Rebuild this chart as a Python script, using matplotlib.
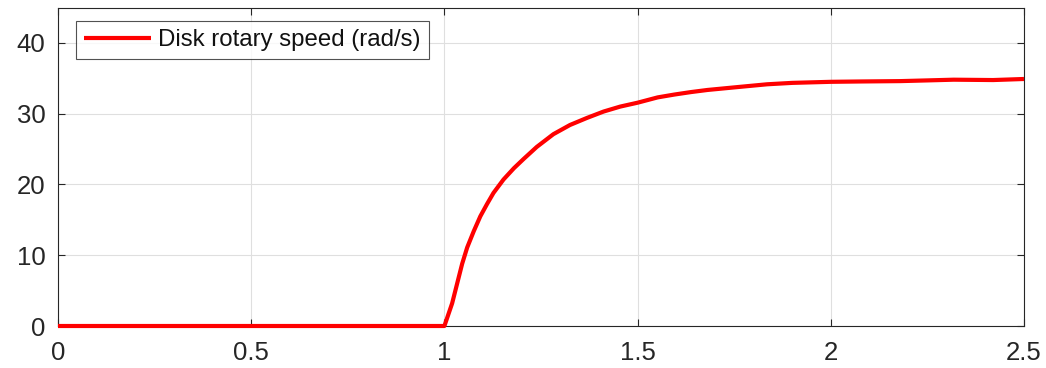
import numpy as np
import matplotlib
matplotlib.use("Agg")
import matplotlib.pyplot as plt

# Data
time_s = [0.0, 1.0, 1.02, 1.033, 1.046, 1.059, 1.076, 1.093, 1.11, 1.127, 1.153,
          1.18, 1.205, 1.239, 1.282, 1.325, 1.369, 1.412, 1.455, 1.5, 1.552,
          1.595, 1.638, 1.681, 1.767, 1.835, 1.9, 2.0, 2.08, 2.18, 2.25, 2.318,
          2.42, 2.5]
speed = [0.0, 0.0, 3.2, 6.0, 8.8, 11.1, 13.4, 15.5, 17.2, 18.8, 20.7,
         22.3, 23.6, 25.3, 27.1, 28.4, 29.4, 30.3, 31.0, 31.55, 32.3,
         32.7, 33.05, 33.35, 33.8, 34.15, 34.35, 34.5, 34.55, 34.6, 34.7, 34.8,
         34.75, 34.9]
xticks = [0, 0.5, 1, 1.5, 2, 2.5]
xticklabels = ["0", "0.5", "1", "1.5", "2", "2.5"]
yticks = [0, 10, 20, 30, 40]
series_label = "Disk rotary speed (rad/s)"

plt.rcParams['font.family'] = ['Liberation Sans', 'DejaVu Sans']

fig = plt.figure(figsize=(10.46, 3.68), dpi=100)
ax = fig.add_axes([58/1046, 42/368, (1024-58)/1046, (326-7.5)/368])

ax.plot(time_s, speed, color='#ff0000', lw=3.0, label=series_label,
        solid_joinstyle='round', solid_capstyle='butt', clip_on=False, zorder=3)

ax.set_xlim(0, 2.5)
ax.set_ylim(0, 45)
ax.set_xticks(xticks)
ax.set_xticklabels(xticklabels)
ax.set_yticks(yticks)
ax.grid(True, color='#dfdfdf', lw=0.8)
ax.set_axisbelow(True)
for s in ax.spines.values():
    s.set_color('#262626')
    s.set_linewidth(0.8)
ax.tick_params(direction='in', top=True, right=True, length=5, width=0.8,
               color='#262626', labelcolor='#262626', labelsize=18.5)
ax.tick_params(axis='x', pad=11)
ax.tick_params(axis='y', pad=9)

leg = ax.legend(loc='upper left', fontsize=17.3, frameon=True, fancybox=False,
                edgecolor='#262626', handlelength=2.8, handletextpad=0.3,
                borderpad=0.33, borderaxespad=0.0,
                bbox_to_anchor=(17.7/966, 1 - 13.5/318.5))
leg.get_frame().set_linewidth(0.8)
for t in leg.get_texts():
    t.set_color('#111111')

fig.savefig("out.png", dpi=100)
